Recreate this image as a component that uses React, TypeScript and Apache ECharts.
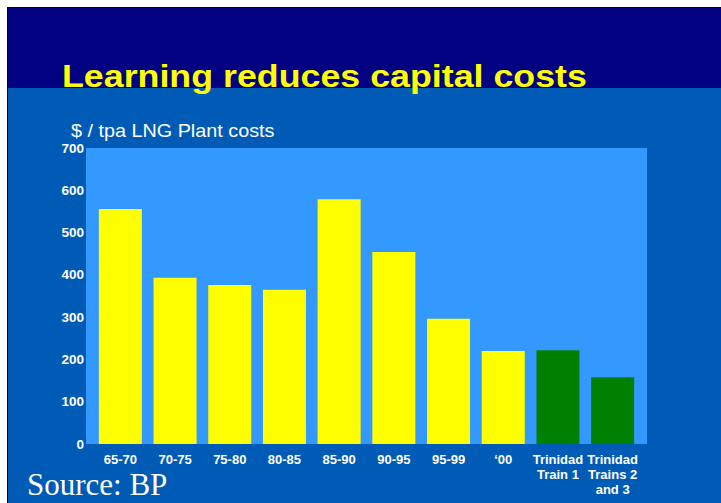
import React, { useEffect, useRef } from "react";
import * as echarts from "echarts";

const categories = [
  "65-70",
  "70-75",
  "75-80",
  "80-85",
  "85-90",
  "90-95",
  "95-99",
  "\u201800",
  "Trinidad\nTrain 1",
  "Trinidad\nTrains 2\nand 3",
];
const values = [556, 393, 376, 365, 579, 454, 296, 220, 222, 158];
const barColors = [
  "#FFFF00",
  "#FFFF00",
  "#FFFF00",
  "#FFFF00",
  "#FFFF00",
  "#FFFF00",
  "#FFFF00",
  "#FFFF00",
  "#008000",
  "#008000",
];
const yMin = 0;
const yMax = 700;
const yInterval = 100;

const titleText = "Learning reduces capital costs";
const subtitleText = "$ / tpa LNG Plant costs";
const sourceText = "Source: BP";

export default function App() {
  const ref = useRef<HTMLDivElement>(null);
  useEffect(() => {
    if (!ref.current) return;
    const chart = echarts.init(ref.current, null, { renderer: "svg" });
    chart.setOption({
      animation: false,
      backgroundColor: "#FFFFFF",
      graphic: [
        { type: "rect", z: -10, shape: { x: 7, y: 7, width: 714, height: 496 }, style: { fill: "#000000" } },
        { type: "rect", z: -10, shape: { x: 8, y: 8, width: 713, height: 81 }, style: { fill: "#000080" } },
        { type: "rect", z: -10, shape: { x: 8, y: 88, width: 713, height: 415 }, style: { fill: "#005BB7" } },
        { type: "rect", z: -10, shape: { x: 86, y: 148, width: 561, height: 296 }, style: { fill: "#3399FF" } },
        {
          type: "text",
          x: 62,
          y: 76,
          scaleX: 1.118,
          style: {
            text: titleText,
            fill: "#FFFF00",
            font: "bold 32px 'Liberation Sans', Arial, sans-serif",
            textVerticalAlign: "middle",
            textAlign: "left",
          },
        },
        {
          type: "text",
          x: 71,
          y: 131,
          scaleX: 1.1,
          style: {
            text: subtitleText,
            fill: "#FFFFFF",
            font: "18px 'Liberation Sans', Arial, sans-serif",
            textVerticalAlign: "middle",
            textAlign: "left",
          },
        },
        {
          type: "text",
          x: 27,
          y: 484,
          style: {
            text: sourceText,
            fill: "#FFFFFF",
            font: "31px 'Liberation Serif', 'Times New Roman', serif",
            textVerticalAlign: "middle",
            textAlign: "left",
          },
        },
      ],
      grid: { left: 93, right: 81, top: 148, bottom: 59 },
      xAxis: {
        type: "category",
        data: categories,
        axisLine: { show: false },
        axisTick: { show: false },
        axisLabel: {
          interval: 0,
          color: "#FFFFFF",
          fontFamily: "'Liberation Sans', Arial, sans-serif",
          fontWeight: "bold",
          fontSize: 13,
          lineHeight: 15,
          margin: 8,
        },
      },
      yAxis: {
        type: "value",
        min: yMin,
        max: yMax,
        interval: yInterval,
        splitLine: { show: false },
        axisLine: { show: false },
        axisTick: { show: false },
        axisLabel: {
          color: "#FFFFFF",
          fontFamily: "'Liberation Sans', Arial, sans-serif",
          fontWeight: "bold",
          fontSize: 13.5,
          margin: 9,
        },
      },
      series: [
        {
          type: "bar",
          barWidth: 43,
          data: values.map((v, i) => ({ value: v, itemStyle: { color: barColors[i] } })),
        },
      ],
    });
    return () => chart.dispose();
  }, []);
  return (
    <div style={{ position: "absolute", left: 0, top: 0, width: 721, height: 503, background: "#FFFFFF" }}>
      <div ref={ref} style={{ width: 721, height: 503 }} />
    </div>
  );
}
